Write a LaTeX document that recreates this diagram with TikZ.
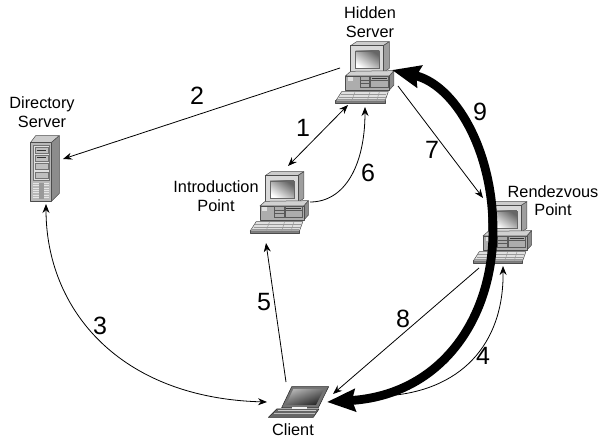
\documentclass[tikz,border=0pt]{standalone}
\usepackage{fontspec}
\setmainfont{Liberation Sans}
\usetikzlibrary{arrows.meta,shadings}
\tikzset{
  iconbox/.style={inner sep=0pt,minimum width=60pt,minimum height=60pt},
  caption/.style={align=center,font=\fontsize{16.3}{18.5}\selectfont,inner sep=0pt},
  stepnum/.style={font=\fontsize{25}{25}\selectfont,inner sep=0pt},
  link/.style={line width=0.8pt,-{Stealth[length=9pt,width=7pt]}},
  dlink/.style={line width=0.8pt,{Stealth[length=9pt,width=7pt]}-{Stealth[length=9pt,width=7pt]}},
  biglink/.style={line width=8.8pt,{Stealth[length=28pt,width=22pt,inset=3pt]}-{Stealth[length=28pt,width=22pt,inset=3pt]}},
  edge/.style={draw=black!70,line width=0.5pt,line join=round},
  computer/.pic={
    \begin{scope}[x=0.3333pt,y=-0.3333pt]
      % monitor
      \fill[edge,fill=black!20] (92,137)--(110,125)--(208,125)--(190,137)--cycle;
      \fill[edge,fill=black!38] (190,137)--(208,125)--(208,205)--(190,218)--cycle;
      \fill[edge,fill=black!15] (92,137)--(190,137)--(190,218)--(92,218)--cycle;
      \shade[top color=black!60,bottom color=white,shading angle=-35,draw=black!60,line width=0.4pt]
        (107,153) rectangle (178,205);
      % desktop
      \fill[edge,fill=black!18] (76,228)--(92,214)--(222,212)--(208,228)--cycle;
      \fill[edge,fill=black!45] (208,228)--(222,212)--(222,255)--(208,270)--cycle;
      \fill[edge,fill=black!32] (76,228)--(208,228)--(208,270)--(76,270)--cycle;
      \fill[black!12] (84,232) rectangle (98,243);
      \draw[black!65,line width=0.4pt] (120,230) rectangle (148,262) (120,240)--(148,240) (120,250)--(148,250);
      \draw[black!65,line width=0.4pt] (152,230) rectangle (204,262) (152,240)--(204,240);
      \draw[black!80,line width=0.7pt] (156,235)--(200,235);
      % keyboard
      \fill[edge,fill=black!50] (47,300)--(195,300)--(195,310)--(47,310)--cycle;
      \fill[edge,fill=black!12] (65,275)--(205,275)--(195,303)--(47,303)--cycle;
      \draw[black!40,line width=0.5pt] (62,283)--(199,283) (57,291)--(197,291) (52,298)--(195,298);
      \draw[black!40,line width=0.5pt] (105,276)--(95,302) (150,276)--(142,302) (178,276)--(170,302);
    \end{scope}
  },
  towerserver/.pic={
    \begin{scope}[x=0.3333pt,y=-0.3333pt]
      \fill[edge,fill=black!20] (92,157)--(107,137)--(178,137)--(155,157)--cycle;
      \fill[edge,fill=black!45] (155,157)--(178,137)--(178,310)--(155,333)--cycle;
      \fill[edge,fill=black!28] (92,157)--(155,157)--(155,333)--(92,333)--cycle;
      \fill[draw=black!55,line width=0.4pt,fill=black!12] (100,167) rectangle (148,270);
      \foreach \yy in {172,195,220,245}{
        \fill[draw=black!55,line width=0.3pt,fill=black!25] (105,\yy) rectangle (143,\yy+18);
      }
      \draw[black!80,line width=0.6pt] (110,180)--(138,180) (110,203)--(138,203);
      \foreach \yy in {280,287,294,301,308,315,322}{
        \draw[black!10,line width=0.7pt] (100,\yy)--(148,\yy);
      }
      \fill[black!40] (116,278) rectangle (132,328);
    \end{scope}
  },
  laptop/.pic={
    \begin{scope}[x=0.3333pt,y=-0.3333pt]
      \fill[edge,draw=black!85,fill=black!55] (125,80)--(236,80)--(205,143)--(95,143)--cycle;
      \shade[top color=black!30,bottom color=black!85,shading angle=20]
        (130,87)--(222,87)--(198,135)--(108,135)--cycle;
      \fill[edge,draw=black!85,fill=black!60] (80,147)--(207,147)--(190,172)--(55,172)--cycle;
      \fill[black!5] (125,141) rectangle (170,147);
      \draw[black!20,line width=0.5pt] (85,152)--(198,152);
      \draw[black!25,line width=0.4pt] (72,160)--(195,160);
    \end{scope}
  }
}
\begin{document}
\begin{tikzpicture}[x=1pt,y=-1pt]
\useasboundingbox (0,0) rectangle (600,438);
% icon slots
\node[iconbox] (hidden) at (365,73) {};
\node[iconbox] (intro) at (279,203) {};
\node[iconbox] (rendez) at (503,233) {};
\node[iconbox,minimum width=30pt] (dir) at (45,168) {};
\node[iconbox,minimum height=32pt] (client) at (300,402) {};
% icons
\pic at (320,0) {computer};
\pic at (234.5,130) {computer};
\pic at (457.6,160) {computer};
\pic at (0,90) {towerserver};
\pic at (250,360) {laptop};
% captions
\node[caption] (hiddenlabel) at (370,22) {Hidden\\Server};
\node[caption] (dirlabel) at (42,112) {Directory\\Server};
\node[caption] (introlabel) at (216,196) {Introduction\\Point};
\node[caption] (rendezlabel) at (553,200.5) {Rendezvous\\Point};
\node[caption] (clientlabel) at (293,430) {Client};
% connectors: offsets from the centres of the named slots
\draw[link] ([shift={(-25,-5)}]hidden.center) -- ([shift={(18,-9)}]dir.center);
\draw[dlink] ([shift={(9,-37)}]intro.center) -- ([shift={(-17,32)}]hidden.center);
\draw[link] ([shift={(31,-1)}]intro.center) .. controls (345,202) and (365,165) .. ([shift={(0,34)}]hidden.center);
\draw[link] ([shift={(33,13)}]hidden.center) -- ([shift={(-20,-35)}]rendez.center);
\draw[link] ([shift={(-24,35)}]rendez.center) -- ([shift={(33,-8)}]client.center);
\draw[link] ([shift={(84,-6)}]client.center) .. controls (460,392) and (504,345) .. ([shift={(0,33)}]rendez.center);
\draw[link] ([shift={(-14,-20)}]client.center) -- ([shift={(-13,40)}]intro.center);
\draw[dlink] ([shift={(1,36)}]dir.center) .. controls (46,310) and (120,398) .. ([shift={(-33,0)}]client.center);
\draw[biglink] ([shift={(27,-3)}]hidden.center) .. controls (455,85) and (493,150) .. (493,230) .. controls (493,320) and (440,395) .. ([shift={(27,0)}]client.center);
% step numbers
\node[stepnum] (n1) at (303,128) {1};
\node[stepnum] (n2) at (197,96) {2};
\node[stepnum] (n3) at (100,326) {3};
\node[stepnum] (n4) at (483,356) {4};
\node[stepnum] (n5) at (264,302) {5};
\node[stepnum] (n6) at (368,173) {6};
\node[stepnum] (n7) at (432,150) {7};
\node[stepnum] (n8) at (403,319) {8};
\node[stepnum] (n9) at (480,112) {9};
\end{tikzpicture}
\end{document}
